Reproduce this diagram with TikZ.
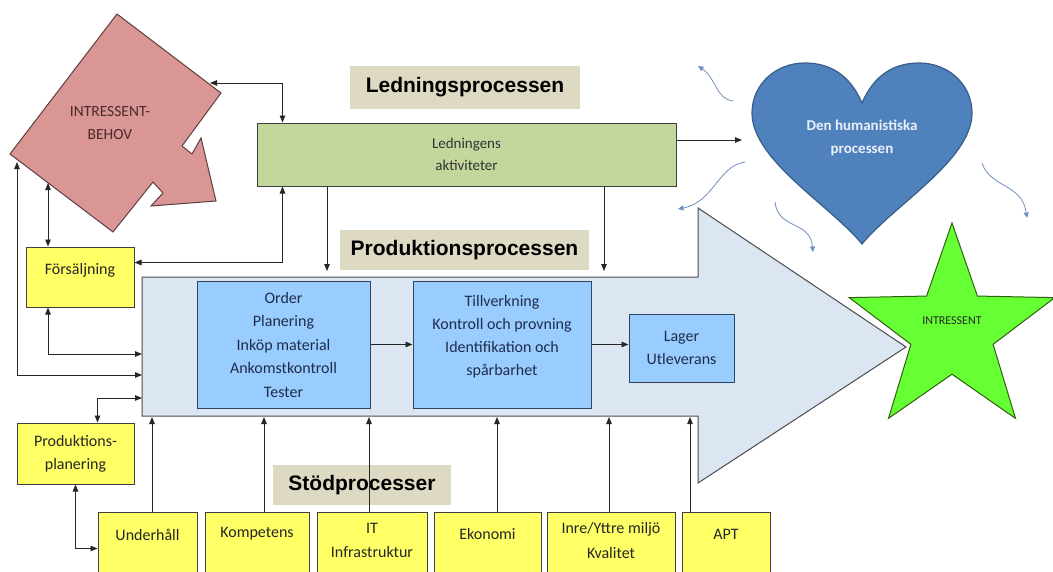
\documentclass[tikz,border=0pt]{standalone}
\usepackage{fontspec}
\setmainfont{Carlito}
\newfontfamily\labfont{Liberation Sans}
\usetikzlibrary{arrows.meta,calc,shapes.geometric}
\definecolor{boxyellow}{HTML}{FFFF66}
\definecolor{boxblue}{HTML}{99CCFF}
\definecolor{bboxline}{HTML}{2F4560}
\definecolor{bluetext}{HTML}{1F2D4A}
\definecolor{boxgreen}{HTML}{C3D69B}
\definecolor{labbeige}{HTML}{DDD9C3}
\definecolor{mainfill}{HTML}{DCE6F2}
\definecolor{pinkfill}{HTML}{D99694}
\definecolor{pinkline}{HTML}{5E3E3E}
\definecolor{pinktext}{HTML}{4A2A2A}
\definecolor{heartfill}{HTML}{4F81BD}
\definecolor{heartline}{HTML}{385D8A}
\definecolor{hearttext}{HTML}{EAF0F8}
\definecolor{starfill}{HTML}{66FF33}
\definecolor{starline}{HTML}{2F5F10}
\definecolor{wavyblue}{HTML}{6F90C0}
\tikzset{
 arr/.style={-{Triangle[length=7pt,width=5.5pt]}, line width=0.9pt, draw=black!85},
 darr/.style={{Triangle[length=7pt,width=5.5pt]}-{Triangle[length=7pt,width=5.5pt]}, line width=0.9pt, draw=black!85},
 ybox/.style={draw=black!75, line width=1pt, fill=boxyellow, inner sep=0pt},
 bbox/.style={draw=bboxline, line width=1pt, fill=boxblue, inner sep=0pt, align=center, text=bluetext, font=\fontsize{16}{23.5}\selectfont},
 lab/.style={fill=labbeige, inner sep=0pt, font=\labfont\bfseries\fontsize{21}{24}\selectfont},
 txt/.style={align=center, font=\fontsize{16}{24.5}\selectfont, inner sep=0pt, text=black!85},
 wavy/.style={draw=wavyblue, line width=0.8pt, -{Triangle[length=5.5pt,width=5pt]}}
}
\begin{document}
\begin{tikzpicture}[x=1pt,y=-1pt]
\useasboundingbox (0,0) rectangle (1053,571);
\clip (0,0) rectangle (1053,571);
\fill[white] (0,0) rectangle (1053,571);

% main production arrow
\draw[fill=mainfill, draw=black!70, line width=1pt] (142,277) -- (698,277) -- (698,208) -- (906,347) -- (698,483) -- (698,416) -- (142,416) -- cycle;

% star
\node[star, star points=5, star point ratio=2.5, minimum size=216pt, inner sep=0pt, fill=starfill, draw=starline, line width=1pt] (star) at (952,331) {};
\node[font=\fontsize{12}{14}\selectfont, inner sep=0pt, text=black!85] (startxt) at (952,321) {INTRESSENT};

% heart
\draw[fill=heartfill, draw=heartline, line width=1.2pt] (862,103) .. controls (850,75) and (830,63) .. (805,63) .. controls (775,63) and (752,85) .. (752,113) .. controls (752,160) and (830,205) .. (862,244) .. controls (894,205) and (972,160) .. (972,113) .. controls (972,85) and (949,63) .. (919,63) .. controls (894,63) and (874,75) .. (862,103) -- cycle;
\node[align=center, text=hearttext, font=\bfseries\fontsize{15}{23}\selectfont, inner sep=0pt] (heartt) at (862,137.5) {Den humanistiska\\processen};

% wavy arrows
\draw[wavy] (733,101) .. controls (716,99) and (716,78) .. (698,66);
\draw[wavy] (745,162) .. controls (718,166) and (714,202) .. (678,209);
\draw[wavy] (775,202) .. controls (778,230) and (810,220) .. (813,252);
\draw[wavy] (982,163) .. controls (990,188) and (1022,183) .. (1027,218);

% pink shape
\draw[fill=pinkfill, draw=pinkline, line width=1pt] (117,14) -- (221,93) -- (182,146) -- (192,154) -- (201,138) -- (216,201) -- (151,206) -- (163,193) -- (153,182) -- (113,232) -- (10,154) -- cycle;
\node[align=center, text=pinktext, font=\fontsize{15.5}{23}\selectfont, inner sep=0pt] (pinkt) at (110,123.5) {INTRESSENT-\\BEHOV};

% labels
\node[lab, minimum width=230pt, minimum height=43pt] (lpl) at (465,87.5) {Ledningsprocessen};
\node[lab, minimum width=249pt, minimum height=40pt] (ppl) at (464.5,250) {Produktionsprocessen};
\node[lab, minimum width=178pt, minimum height=40pt] (spl) at (362,485) {Stödprocesser};

% green box
\node[draw=black!75, line width=1pt, fill=boxgreen, minimum width=419pt, minimum height=63pt, align=center, inner sep=0pt, text=black!80, font=\fontsize{15}{22}\selectfont] (green) at (466.5,154.5) {Ledningens\\aktiviteter};

% left yellow boxes
\node[ybox, minimum width=108pt, minimum height=60pt] (fors) at (80,277) {};
\node[txt] (forst) at (80,270) {Försäljning};
\node[ybox, minimum width=117pt, minimum height=61pt, align=center, font=\fontsize{16}{23}\selectfont, text=black!85] (pp) at (75.5,453.5) {Produktions-\\planering};

% blue boxes
\node[bbox, minimum width=173pt, minimum height=127pt] (order) at (283.5,344.5) {Order\\Planering\\Inköp material\\Ankomstkontroll\\Tester};
\node[bbox, minimum width=178pt, minimum height=127pt] (tillv) at (502,344.5) {};
\node[align=center, text=bluetext, font=\fontsize{16}{23}\selectfont, inner sep=0pt] (tillvt) at (502,336.5) {Tillverkning\\Kontroll och provning\\Identifikation och\\spårbarhet};
\node[bbox, minimum width=105pt, minimum height=68pt] (lager) at (681.5,348) {Lager\\Utleverans};

% bottom yellow boxes
\node[ybox, minimum width=99pt, minimum height=73pt] (uh) at (147.5,548.5) {};
\node[txt] (uht) at (147.5,535) {Underhåll};
\node[ybox, minimum width=104pt, minimum height=73pt] (komp) at (257,548.5) {};
\node[txt] (kompt) at (257,534) {Kompetens};
\node[ybox, minimum width=110pt, minimum height=73pt] (it) at (372,548.5) {};
\node[txt] (itt) at (372,540.5) {IT\\Infrastruktur};
\node[ybox, minimum width=107pt, minimum height=73pt] (eko) at (487.5,548.5) {};
\node[txt] (ekot) at (487.5,534) {Ekonomi};
\node[ybox, minimum width=128pt, minimum height=73pt] (inre) at (611,548.5) {};
\node[txt] (inret) at (611,540.5) {Inre/Yttre miljö\\Kvalitet};
\node[ybox, minimum width=88pt, minimum height=73pt] (apt) at (726,548.5) {};
\node[txt] (aptt) at (726,534) {APT};

% coordinates on shapes
\coordinate (pkA) at (210,83);
\coordinate (pkB) at (48,183);
\coordinate (pkC) at (17,162);
\coordinate (mL1) at (142,354);
\coordinate (mL2) at (142,375);
\coordinate (mL3) at (142,398);
\coordinate (mT1) at (327,271);
\coordinate (mT2) at (604,271);
\coordinate (mB) at (142,417);
\coordinate (hL) at (742,140);

% connectors
\draw[darr] (pkA) -| ($(green.north west)+(26,0)$);
\draw[darr] ($(green.south west)+(26,0)$) |- ($(fors.north east)+(0,16)$);
\draw[arr] (green.south -| mT1) -- (mT1);
\draw[arr] (green.south -| mT2) -- (mT2);
\draw[arr] (green.east |- hL) -- (hL);
\draw[darr] (pkB) -- (pkB |- fors.north);
\draw[darr] (pkC) |- (mL2);
\draw[darr] (pkB |- fors.south) |- (mL1);
\draw[darr] ($(pp.north west)+(81,0)$) |- (mL3);
\draw[darr] ($(pp.south west)+(59,0)$) |- (uh.west);
\draw[arr] (order.east) -- (tillv.west |- order.east);
\draw[arr] (tillv.east) -- (lager.west |- tillv.east);
\draw[arr] (152,0 |- uh.north) -- (152,0 |- mB);
\draw[arr] (264,0 |- komp.north) -- (264,0 |- mB);
\draw[arr] (369,0 |- it.north) -- (369,0 |- mB);
\draw[arr] (497,0 |- eko.north) -- (497,0 |- mB);
\draw[arr] (609,0 |- inre.north) -- (609,0 |- mB);
\draw[arr] (690,0 |- apt.north) -- (690,0 |- mB);
\end{tikzpicture}
\end{document}
